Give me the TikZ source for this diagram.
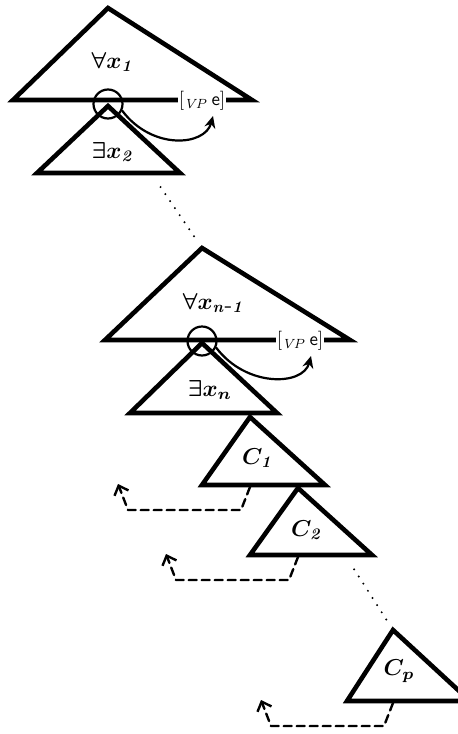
\documentclass[tikz,border=0pt]{standalone}
\usetikzlibrary{arrows.meta}
\begin{document}
\begin{tikzpicture}[x=1pt, y=-1pt, line cap=round, line join=round,
    tri/.style={line width=4.6pt, line join=miter},
    lbl/.style={scale=2.3, font=\boldmath},
    gapcirc/.style={circle, draw, line width=2.2pt, minimum size=29pt, inner sep=0pt},
    trace/.style={fill=white, inner sep=0.4pt, scale=1.9},
    bind/.style={line width=2.2pt, -{Stealth[length=12pt, width=11pt]}},
    dashret/.style={line width=2.4pt, dash pattern=on 8pt off 5pt,
      -{Straight Barb[length=8pt, width=15pt, line width=2.4pt]}},
    dots/.style={line width=2.2pt, dash pattern=on 0pt off 8.5pt, line cap=round}]
    % Picture window (pixel units, y downwards)
    \useasboundingbox (0,0) rectangle (458,734);
    \clip (0,0) rectangle (458,734);

    % Quantifier triangles: apex, left and right base corners
    \coordinate (t1)  at (108,8);   \coordinate (t1l) at (13,100);  \coordinate (t1r) at (252,100);
    \coordinate (t2)  at (108,106); \coordinate (t2l) at (37,173);  \coordinate (t2r) at (180,173);
    \coordinate (t3)  at (202,248); \coordinate (t3l) at (105,340); \coordinate (t3r) at (350,340);
    \coordinate (t4)  at (202,343); \coordinate (t4l) at (130,413); \coordinate (t4r) at (277,413);
    % Conjunct triangles
    \coordinate (c1)  at (250,417); \coordinate (c1l) at (202,485); \coordinate (c1r) at (325,485);
    \coordinate (c2)  at (298,488); \coordinate (c2l) at (250,555); \coordinate (c2r) at (372,555);
    \coordinate (cp)  at (393,630); \coordinate (cpl) at (347,701); \coordinate (cpr) at (470,701);

    \foreach \t in {t1,t2,t3,t4,c1,c2,cp}
      \draw[tri] (\t) -- (\t l) -- (\t r) -- cycle;

    % Triangle labels
    \node[lbl] (a1) at (113,62)  {$\forall x_{\mathit{1}}$};
    \node[lbl] (e2) at (113,152) {$\exists x_{\mathit{2}}$};
    \node[lbl] (a3) at (214,303) {$\forall x_{\mathit{n\mbox{-}1}}$};
    \node[lbl] (e4) at (210,390) {$\exists x_{n}$};
    \node[lbl] (l1) at (258,458) {$C_{\mathit{1}}$};
    \node[lbl] (l2) at (307,530) {$C_{\mathit{2}}$};
    \node[lbl] (lp) at (399,671) {$C_{p}$};

    % Gap circles and VP traces
    \node[gapcirc] (q1) at (108,104) {};
    \node[gapcirc] (q2) at (202,341) {};
    \node[trace] (vp1) at (202,101) {$[_{\mathit{VP}}$\,\textsf{e}$]$};
    \node[trace] (vp2) at (300,341) {$[_{\mathit{VP}}$\,\textsf{e}$]$};
    \coordinate (e1) at (213,116);
    \coordinate (e2) at (311,356);

    \draw[bind] (q1.-25) .. controls +(30,40) and +(-8,30) .. (e1);
    \draw[bind] (q2.-25) .. controls +(30,40) and +(-8,30) .. (e2);

    % Dotted continuations
    \coordinate (d1) at (151,173);
    \coordinate (d2) at (345,555);
    \draw[dots, shorten <=17pt, shorten >=12pt] (d1) -- (t3);
    \draw[dots, shorten <=17pt, shorten >=12pt] (d2) -- (cp);

    % Dashed returns under each conjunct
    \foreach \t in {c1,c2,cp}
      \draw[dashret] ([yshift=-2pt]\t l -| \t) -- ++(-9,23) -- ++(-113,0) -- ++(-10,-26);
\end{tikzpicture}
\end{document}
